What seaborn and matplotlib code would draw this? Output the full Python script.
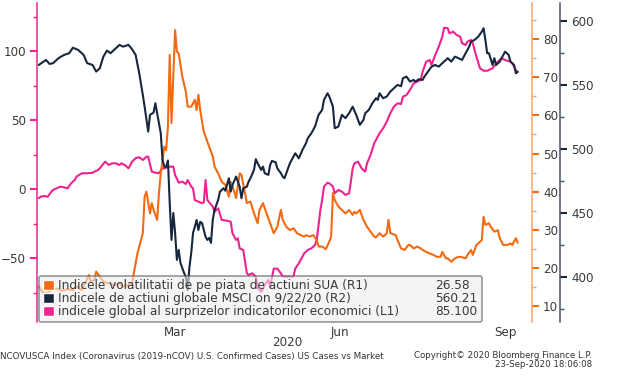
import pandas as pd
import matplotlib
matplotlib.use("Agg")
import matplotlib.pyplot as plt
from matplotlib.patches import Patch
from matplotlib.ticker import MultipleLocator
import seaborn as sns

# --- data ---
vol_dates = ["2019-12-30", "2020-01-01", "2020-01-03", "2020-01-07", "2020-01-09", "2020-01-12", "2020-01-15",
             "2020-01-18", "2020-01-20", "2020-01-23", "2020-01-27", "2020-01-28", "2020-01-30", "2020-01-31",
             "2020-02-02", "2020-02-04", "2020-02-07", "2020-02-10", "2020-02-13", "2020-02-15", "2020-02-18",
             "2020-02-20", "2020-02-21", "2020-02-23", "2020-02-25", "2020-02-26", "2020-02-27", "2020-02-28",
             "2020-03-01", "2020-03-02", "2020-03-03", "2020-03-05", "2020-03-06", "2020-03-07", "2020-03-08",
             "2020-03-09", "2020-03-10", "2020-03-11", "2020-03-12", "2020-03-13", "2020-03-15", "2020-03-16",
             "2020-03-17", "2020-03-19", "2020-03-21", "2020-03-22", "2020-03-24", "2020-03-26", "2020-03-27",
             "2020-03-28", "2020-03-29", "2020-03-31", "2020-04-01", "2020-04-03", "2020-04-05", "2020-04-06",
             "2020-04-08", "2020-04-10", "2020-04-12", "2020-04-14", "2020-04-15", "2020-04-17", "2020-04-18",
             "2020-04-20", "2020-04-21", "2020-04-23", "2020-04-24", "2020-04-26", "2020-04-28", "2020-04-30",
             "2020-05-01", "2020-05-03", "2020-05-05", "2020-05-07", "2020-05-09", "2020-05-11", "2020-05-13",
             "2020-05-14", "2020-05-16", "2020-05-18", "2020-05-20", "2020-05-22", "2020-05-24", "2020-05-26",
             "2020-05-27", "2020-05-29", "2020-05-31", "2020-06-02", "2020-06-03", "2020-06-05", "2020-06-07",
             "2020-06-09", "2020-06-10", "2020-06-11", "2020-06-12", "2020-06-14", "2020-06-16", "2020-06-18",
             "2020-06-20", "2020-06-22", "2020-06-23", "2020-06-24", "2020-06-26", "2020-06-28", "2020-06-30",
             "2020-07-02", "2020-07-04", "2020-07-05", "2020-07-07", "2020-07-09", "2020-07-11", "2020-07-12",
             "2020-07-13", "2020-07-16", "2020-07-17", "2020-07-19", "2020-07-21", "2020-07-23", "2020-07-24",
             "2020-07-26", "2020-07-28", "2020-07-30", "2020-07-31", "2020-08-02", "2020-08-04", "2020-08-06",
             "2020-08-08", "2020-08-10", "2020-08-11", "2020-08-13", "2020-08-14", "2020-08-16", "2020-08-18",
             "2020-08-20", "2020-08-22", "2020-08-24", "2020-08-25", "2020-08-27", "2020-08-28", "2020-08-30",
             "2020-08-31", "2020-09-02", "2020-09-03", "2020-09-04", "2020-09-06", "2020-09-07", "2020-09-09",
             "2020-09-11", "2020-09-12", "2020-09-14", "2020-09-16", "2020-09-18", "2020-09-19", "2020-09-21",
             "2020-09-22"]
vol_values = [15.1, 13.7, 13.3, 14.2, 14.6, 14.0, 14.4, 14.2, 15.1, 14.2, 18.1, 16.4, 16.8, 19.0,
              17.7, 16.4, 15.9, 15.5, 15.9, 15.1, 15.5, 15.9, 18.6, 23.8, 27.3, 29.1, 38.7, 40.0,
              34.3, 37.0, 35.2, 32.6, 39.6, 44.8, 48.3, 51.8, 50.9, 57.1, 75.9, 58.0, 82.4, 76.7,
              76.3, 70.2, 66.2, 62.3, 62.3, 64.1, 61.4, 65.4, 61.4, 55.7, 54.4, 51.8, 49.2, 46.6,
              44.8, 42.6, 41.8, 38.7, 42.6, 40.0, 38.3, 44.8, 44.4, 39.6, 37.0, 37.4, 34.3, 31.7,
              35.2, 37.0, 34.3, 31.7, 29.1, 30.8, 35.2, 32.6, 30.8, 29.9, 30.4, 29.1, 28.6, 28.2,
              28.6, 28.2, 28.6, 27.3, 25.6, 25.6, 24.9, 26.9, 28.2, 39.6, 37.8, 36.1, 35.2, 34.3,
              35.2, 33.9, 34.7, 34.3, 35.2, 32.6, 30.8, 29.5, 28.2, 28.0, 29.1, 28.2, 29.1, 32.6,
              29.1, 28.6, 27.3, 25.1, 24.7, 26.0, 26.0, 25.1, 25.6, 25.1, 24.7, 24.2, 23.8, 23.4,
              22.9, 22.9, 24.2, 22.5, 22.5, 21.6, 22.5, 22.9, 22.8, 22.5, 23.4, 24.7, 23.4, 26.0,
              26.4, 27.3, 33.4, 31.3, 31.7, 30.8, 29.5, 29.9, 27.8, 26.0, 26.0, 26.4, 26.0, 27.8,
              26.58]

msci_dates = ["2019-12-30", "2020-01-03", "2020-01-05", "2020-01-07", "2020-01-10", "2020-01-13", "2020-01-16",
              "2020-01-18", "2020-01-21", "2020-01-24", "2020-01-26", "2020-01-29", "2020-01-31", "2020-02-02",
              "2020-02-04", "2020-02-06", "2020-02-08", "2020-02-11", "2020-02-13", "2020-02-15", "2020-02-18",
              "2020-02-20", "2020-02-22", "2020-02-24", "2020-02-26", "2020-02-27", "2020-02-29", "2020-03-01",
              "2020-03-03", "2020-03-04", "2020-03-05", "2020-03-07", "2020-03-08", "2020-03-09", "2020-03-10",
              "2020-03-11", "2020-03-12", "2020-03-13", "2020-03-14", "2020-03-15", "2020-03-16", "2020-03-17",
              "2020-03-18", "2020-03-20", "2020-03-21", "2020-03-22", "2020-03-23", "2020-03-24", "2020-03-25",
              "2020-03-26", "2020-03-27", "2020-03-28", "2020-03-29", "2020-03-30", "2020-04-01", "2020-04-02",
              "2020-04-03", "2020-04-04", "2020-04-05", "2020-04-06", "2020-04-08", "2020-04-09", "2020-04-11",
              "2020-04-12", "2020-04-14", "2020-04-15", "2020-04-16", "2020-04-18", "2020-04-19", "2020-04-20",
              "2020-04-21", "2020-04-22", "2020-04-24", "2020-04-25", "2020-04-26", "2020-04-28", "2020-04-29",
              "2020-04-30", "2020-05-02", "2020-05-03", "2020-05-04", "2020-05-06", "2020-05-07", "2020-05-08",
              "2020-05-10", "2020-05-11", "2020-05-13", "2020-05-14", "2020-05-15", "2020-05-16", "2020-05-18",
              "2020-05-20", "2020-05-21", "2020-05-23", "2020-05-25", "2020-05-27", "2020-05-28", "2020-05-30",
              "2020-06-01", "2020-06-03", "2020-06-05", "2020-06-06", "2020-06-08", "2020-06-09", "2020-06-11",
              "2020-06-12", "2020-06-14", "2020-06-16", "2020-06-18", "2020-06-20", "2020-06-21", "2020-06-22",
              "2020-06-24", "2020-06-26", "2020-06-28", "2020-06-29", "2020-07-01", "2020-07-03", "2020-07-05",
              "2020-07-06", "2020-07-07", "2020-07-09", "2020-07-11", "2020-07-13", "2020-07-15", "2020-07-17",
              "2020-07-19", "2020-07-20", "2020-07-22", "2020-07-24", "2020-07-26", "2020-07-27", "2020-07-29",
              "2020-07-31", "2020-08-01", "2020-08-03", "2020-08-05", "2020-08-07", "2020-08-09", "2020-08-11",
              "2020-08-13", "2020-08-14", "2020-08-16", "2020-08-18", "2020-08-20", "2020-08-22", "2020-08-24",
              "2020-08-26", "2020-08-27", "2020-08-29", "2020-08-31", "2020-09-02", "2020-09-03", "2020-09-04",
              "2020-09-05", "2020-09-06", "2020-09-08", "2020-09-09", "2020-09-10", "2020-09-12", "2020-09-14",
              "2020-09-15", "2020-09-17", "2020-09-18", "2020-09-20", "2020-09-21", "2020-09-22"]
msci_values = [565.6, 569.5, 566.4, 567.0, 570.9, 573.4, 574.8, 579.1, 577.3, 573.4, 567.0, 565.6, 560.4, 563.0,
               572.1, 576.8, 574.8, 578.7, 581.3, 579.9, 581.3, 577.9, 573.4, 559.1, 542.2, 533.1, 513.5, 526.6,
               528.4, 535.7, 527.9, 512.3, 491.4, 486.2, 486.0, 491.0, 457.8, 428.9, 450.0, 434.4, 413.3, 421.1,
               410.9, 403.1, 400.0, 389.8, 407.8, 418.8, 434.4, 439.1, 444.5, 436.7, 443.0, 442.2, 431.3, 428.9,
               430.5, 426.6, 444.5, 452.3, 460.2, 466.6, 469.3, 467.4, 477.1, 466.6, 471.9, 478.4, 474.5, 470.5,
               461.5, 469.3, 470.5, 474.5, 477.1, 483.6, 492.0, 488.8, 483.6, 486.2, 481.0, 479.7, 487.5, 490.6,
               489.6, 484.9, 481.0, 478.4, 477.1, 481.0, 488.8, 494.0, 496.6, 492.7, 499.2, 504.5, 508.4, 512.3,
               517.4, 526.6, 530.5, 538.3, 543.5, 540.9, 533.0, 516.2, 517.4, 526.6, 524.0, 527.9, 530.5, 533.0,
               526.6, 518.8, 522.7, 527.9, 530.5, 535.7, 539.6, 538.3, 543.5, 539.6, 540.9, 544.8, 547.4, 550.0,
               549.0, 555.2, 556.5, 552.6, 553.9, 552.6, 554.5, 553.9, 556.5, 560.4, 564.3, 565.6, 564.3, 567.0,
               569.5, 570.9, 568.2, 572.1, 570.9, 569.5, 574.8, 579.9, 583.8, 585.2, 587.7, 591.6, 594.3, 585.2,
               574.8, 574.8, 565.6, 570.9, 565.6, 568.2, 573.4, 576.0, 573.4, 568.2, 565.6, 559.1, 560.21]

surprise_dates = ["2019-12-30", "2019-12-31", "2020-01-02", "2020-01-04", "2020-01-06", "2020-01-07", "2020-01-09",
                  "2020-01-11", "2020-01-13", "2020-01-15", "2020-01-17", "2020-01-19", "2020-01-20", "2020-01-23",
                  "2020-01-26", "2020-01-29", "2020-02-01", "2020-02-02", "2020-02-05", "2020-02-07", "2020-02-09",
                  "2020-02-11", "2020-02-13", "2020-02-14", "2020-02-16", "2020-02-18", "2020-02-20", "2020-02-22",
                  "2020-02-24", "2020-02-26", "2020-02-28", "2020-02-29", "2020-03-02", "2020-03-04", "2020-03-06",
                  "2020-03-08", "2020-03-09", "2020-03-12", "2020-03-14", "2020-03-15", "2020-03-17", "2020-03-19",
                  "2020-03-21", "2020-03-22", "2020-03-24", "2020-03-25", "2020-03-26", "2020-03-28", "2020-03-30",
                  "2020-03-31", "2020-04-01", "2020-04-02", "2020-04-05", "2020-04-06", "2020-04-08", "2020-04-10",
                  "2020-04-13", "2020-04-15", "2020-04-16", "2020-04-18", "2020-04-19", "2020-04-20", "2020-04-22",
                  "2020-04-24", "2020-04-25", "2020-04-27", "2020-04-29", "2020-04-30", "2020-05-02", "2020-05-04",
                  "2020-05-06", "2020-05-07", "2020-05-09", "2020-05-11", "2020-05-13", "2020-05-14", "2020-05-16",
                  "2020-05-20", "2020-05-21", "2020-05-23", "2020-05-25", "2020-05-26", "2020-05-28", "2020-05-30",
                  "2020-06-01", "2020-06-02", "2020-06-04", "2020-06-05", "2020-06-06", "2020-06-08", "2020-06-09",
                  "2020-06-11", "2020-06-12", "2020-06-14", "2020-06-16", "2020-06-18", "2020-06-20", "2020-06-21",
                  "2020-06-22", "2020-06-23", "2020-06-25", "2020-06-27", "2020-06-29", "2020-06-30", "2020-07-02",
                  "2020-07-04", "2020-07-05", "2020-07-07", "2020-07-09", "2020-07-11", "2020-07-13", "2020-07-15",
                  "2020-07-17", "2020-07-19", "2020-07-20", "2020-07-22", "2020-07-24", "2020-07-26", "2020-07-28",
                  "2020-07-30", "2020-07-31", "2020-08-02", "2020-08-04", "2020-08-05", "2020-08-07", "2020-08-09",
                  "2020-08-11", "2020-08-12", "2020-08-14", "2020-08-15", "2020-08-17", "2020-08-19", "2020-08-21",
                  "2020-08-22", "2020-08-24", "2020-08-25", "2020-08-27", "2020-08-28", "2020-08-30", "2020-09-01",
                  "2020-09-03", "2020-09-05", "2020-09-08", "2020-09-11", "2020-09-13", "2020-09-15", "2020-09-18",
                  "2020-09-19", "2020-09-21", "2020-09-22"]
surprise_values = [-6.5, -5.4, -4.9, -5.4, -1.7, -0.5, 0.7, 1.9, 1.4, 0.7, 4.3, 6.7, 9.1, 11.6,
                   11.6, 12.0, 14.0, 15.2, 20.0, 17.6, 18.8, 18.8, 17.6, 18.8, 17.6, 15.2, 20.0, 22.5,
                   23.2, 21.2, 23.6, 23.6, 12.8, 12.0, 11.6, 15.2, 15.2, 16.4, 16.4, 10.4, 4.8, 5.5,
                   3.8, 6.7, 1.9, 0.7, -7.8, -9.0, -10.1, -9.5, 6.7, -7.8, -12.6, -16.2, -13.8, -22.2,
                   -22.8, -23.5, -31.9, -36.7, -35.5, -42.8, -44.0, -60.9, -62.1, -60.9, -63.3, -71.5, -74.4, -69.3,
                   -65.7, -70.8, -57.5, -57.5, -60.9, -63.3, -63.3, -63.3, -57.5, -53.6, -48.8, -46.4, -44.0, -42.8,
                   -40.4, -36.7, -15.0, -7.8, 1.9, 4.8, 4.3, 1.9, -2.9, -0.5, -1.7, -4.1, -2.9, 5.5,
                   15.2, 18.8, 20.0, 15.2, 12.8, 18.8, 24.9, 33.3, 35.7, 40.6, 44.2, 49.0, 55.1, 59.9,
                   62.3, 61.8, 67.1, 68.3, 72.0, 76.8, 78.0, 79.2, 85.2, 92.5, 93.7, 90.1, 97.3, 103.3,
                   110.6, 117.1, 116.7, 113.0, 114.2, 111.8, 110.6, 105.8, 104.6, 107.0, 108.2, 105.8, 96.1, 87.7,
                   85.9, 85.9, 87.7, 92.5, 94.9, 93.7, 92.5, 91.3, 86.4, 85.1]

series_labels = ["Indicele volatilitatii de pe piata de actiuni SUA (R1)",
                 "Indicele de actiuni globale MSCI on 9/22/20 (R2)",
                 "indicele global al surprizelor indicatorilor economici (L1)"]
last_values = ["26.58", "560.21", "85.100"]
month_ticks = ["2020-03-15", "2020-06-15", "2020-09-15"]
month_labels = ["Mar", "Jun", "Sep"]

ORANGE = "#f26a12"
NAVY = "#17273d"
PINK = "#ee2290"
TXT = "#3a3a3a"

sns.set_style("white")
plt.rcParams["font.family"] = ["DejaVu Sans"]

fig = plt.figure(figsize=(6.26, 3.77), dpi=100)
ax = fig.add_axes([37 / 626, 1 - 322 / 377, 495 / 626, 319 / 377])
ax2 = ax.twinx()
ax3 = ax.twinx()

sns.lineplot(x=pd.to_datetime(surprise_dates), y=surprise_values, ax=ax, color=PINK, linewidth=1.5)
sns.lineplot(x=pd.to_datetime(vol_dates), y=vol_values, ax=ax2, color=ORANGE, linewidth=1.5)
sns.lineplot(x=pd.to_datetime(msci_dates), y=msci_values, ax=ax3, color=NAVY, linewidth=1.5)

ax.set_xlim(pd.Timestamp("2019-12-29"), pd.Timestamp("2020-09-30"))
ax.set_ylim(-96.2, 135)
ax2.set_ylim(5.8, 89.5)
ax3.set_ylim(364.8, 614)

for a in (ax, ax2, ax3):
    a.set_xlabel("")
    a.set_ylabel("")
    for s in a.spines.values():
        s.set_visible(False)

# left axis (L1)
ax.spines["left"].set_visible(True)
ax.spines["left"].set_color(PINK)
ax.spines["left"].set_linewidth(1.1)
ax.yaxis.set_major_locator(MultipleLocator(50))
ax.yaxis.set_minor_locator(MultipleLocator(25))
ax.tick_params(axis="y", which="major", left=True, length=5, width=1.5, color=PINK,
               labelsize=8.6, labelcolor=TXT, pad=3)
ax.tick_params(axis="y", which="minor", left=True, length=3, width=1, color=PINK)

# orange axis (R1)
ax2.spines["right"].set_visible(True)
ax2.spines["right"].set_color("#f5a46e")
ax2.spines["right"].set_linewidth(1.1)
ax2.yaxis.set_major_locator(MultipleLocator(10))
ax2.yaxis.set_minor_locator(MultipleLocator(5))
ax2.tick_params(axis="y", which="major", right=True, length=5, width=1.5, color=ORANGE,
                labelsize=8.6, labelcolor=TXT, pad=3)
ax2.tick_params(axis="y", which="minor", right=True, length=3, width=1, color="#f5a46e")

# navy axis (R2)
ax3.spines["right"].set_visible(True)
ax3.spines["right"].set_position(("outward", 20.2))
ax3.spines["right"].set_color("#4a5568")
ax3.spines["right"].set_linewidth(1.1)
ax3.yaxis.set_major_locator(MultipleLocator(50))
ax3.yaxis.set_minor_locator(MultipleLocator(25))
ax3.tick_params(axis="y", which="major", right=True, length=5, width=1.5, color=NAVY,
                labelsize=8.6, labelcolor=TXT, pad=3)
ax3.tick_params(axis="y", which="minor", right=True, length=3, width=1, color="#4a5568")

ax.set_xticks(pd.to_datetime(month_ticks))
ax.set_xticklabels(month_labels)
ax.tick_params(axis="x", length=0, labelsize=8.6, labelcolor=TXT, pad=3)
fig.text(287 / 626, 1 - 343 / 377, "2020", ha="center", va="center", fontsize=8.6, color=TXT)

# legend
handles = [Patch(facecolor=ORANGE), Patch(facecolor=NAVY), Patch(facecolor=PINK)]
leg = ax3.legend(handles, series_labels, loc="lower left", bbox_to_anchor=(0.004, 0.0, 0.895, 0.14),
                 mode="expand", borderaxespad=0, fontsize=8.7, handlelength=0.95, handleheight=0.85,
                 handletextpad=0.35, labelspacing=0.0, borderpad=0.3, fancybox=True,
                 framealpha=0.6, facecolor="#eeeeee", edgecolor="#555555")
leg.get_frame().set_linewidth(1.2)
for t in leg.get_texts():
    t.set_color(TXT)

fig.canvas.draw()
for t, v in zip(leg.get_texts(), last_values):
    bb = t.get_window_extent()
    fig.text(435 / 626, bb.y0 / fig.bbox.height, v, ha="left", va="bottom", fontsize=8.7, color=TXT)

# footer
fig.text(0.0, 1 - 356 / 377, "NCOVUSCA Index (Coronavirus (2019-nCOV) U.S. Confirmed Cases) US Cases vs Market",
         ha="left", va="center", fontsize=6.3, color="#333333")
fig.text(592 / 626, 1 - 355 / 377, "Copyright\u00a9 2020 Bloomberg Finance L.P.",
         ha="right", va="center", fontsize=6.2, color="#333333")
fig.text(592 / 626, 1 - 364.5 / 377, "23-Sep-2020 18:06:08",
         ha="right", va="center", fontsize=6.2, color="#333333")

fig.savefig("out.png", dpi=100)
